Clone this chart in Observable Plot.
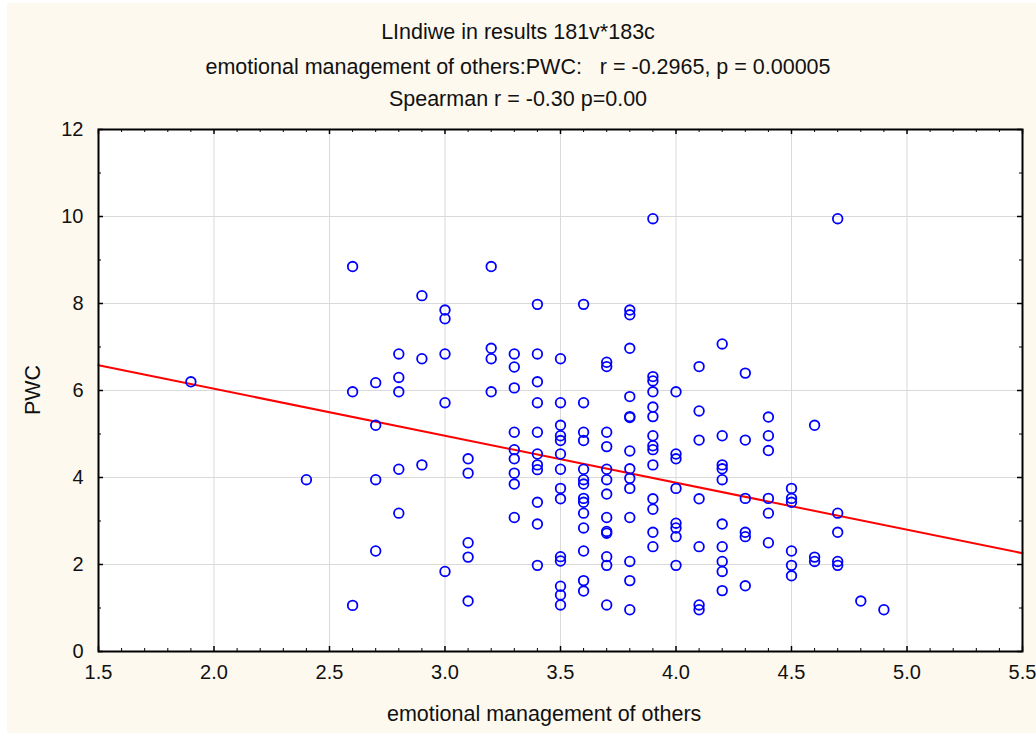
<!DOCTYPE html>
<html>
<head>
<meta charset="utf-8">
<script src="https://cdn.jsdelivr.net/npm/d3@7"></script>
<script src="https://cdn.jsdelivr.net/npm/@observablehq/plot@0.6"></script>
<style>
  body { margin: 0; background: #ffffff; }
  #wrap { position: relative; width: 1036px; height: 733px; font-family: "Liberation Sans", Arial, sans-serif; color: #111; overflow: hidden; }
  #bg { position: absolute; left: 7px; top: 3px; right: 0; bottom: 0; background: #FDF9EF; }
  #chart { position: absolute; left: 0; top: 0; }
  .t { position: absolute; left: 0; width: 1036px; text-align: center; font-size: 21.5px; line-height: 21.5px; white-space: pre; }
  #xlab { position: absolute; left: 387px; top: 704px; font-size: 21.5px; line-height: 21.5px; white-space: pre; }
  #ylab { position: absolute; left: 33.5px; top: 389.5px; font-size: 21.5px; line-height: 21.5px; transform: translate(-50%, -50%) rotate(-90deg); white-space: pre; }
</style>
</head>
<body>
<div id="wrap">
  <div id="bg"></div>
  <div id="chart"></div>
  <div class="t" style="top:22px">LIndiwe in results 181v*183c</div>
  <div class="t" style="top:57px">emotional management of others:PWC:   r = -0.2965, p = 0.00005</div>
  <div class="t" style="top:89px">Spearman r = -0.30 p=0.00</div>
  <div id="xlab">emotional management of others</div>
  <div id="ylab">PWC</div>
</div>
<script>
// x categories (emotional management of others)
const emoLevels = [1.9, 2.4, 2.6, 2.7, 2.8, 2.9, 3.0, 3.1, 3.2, 3.3, 3.4, 3.5, 3.6, 3.7, 3.8, 3.9, 4.0, 4.1, 4.2, 4.3, 4.4, 4.5, 4.6, 4.7, 4.8, 4.9];
// PWC values observed at each level
const pwcByLevel = [
  [6.2],
  [3.95],
  [8.85, 5.97, 1.06],
  [6.18, 5.2, 3.95, 2.31],
  [6.84, 6.3, 5.97, 4.19, 3.18],
  [8.18, 6.73, 4.29],
  [7.85, 7.65, 6.84, 5.72, 1.84],
  [4.43, 4.1, 2.5, 2.17, 1.16],
  [8.85, 6.97, 6.73, 5.97],
  [6.84, 6.54, 6.06, 5.04, 4.64, 4.43, 4.1, 3.85, 3.08],
  [7.98, 6.84, 6.2, 5.72, 5.04, 4.54, 4.29, 4.18, 3.43, 2.93, 1.98],
  [6.73, 5.72, 5.2, 4.96, 4.85, 4.54, 4.19, 3.75, 3.51, 2.18, 2.08, 1.5, 1.3, 1.07],
  [7.98, 5.72, 5.04, 4.85, 4.19, 3.95, 3.85, 3.52, 3.43, 3.18, 2.84, 2.31, 1.63, 1.39],
  [6.65, 6.55, 5.04, 4.71, 4.19, 3.95, 3.62, 3.08, 2.76, 2.72, 2.18, 1.98, 1.07],
  [7.85, 7.74, 6.97, 5.86, 5.4, 5.38, 4.61, 4.2, 3.98, 3.75, 3.08, 2.07, 1.63, 0.96],
  [9.95, 6.32, 6.22, 5.97, 5.62, 5.4, 4.96, 4.73, 4.64, 4.29, 3.51, 3.27, 2.74, 2.41],
  [5.97, 4.54, 4.43, 3.75, 2.95, 2.84, 2.64, 1.98],
  [6.55, 5.53, 4.86, 3.51, 2.41, 1.07, 0.96],
  [7.07, 4.96, 4.29, 4.2, 3.95, 2.93, 2.41, 2.07, 1.84, 1.4],
  [6.4, 4.86, 3.52, 2.74, 2.64, 1.51],
  [5.39, 4.96, 4.62, 3.52, 3.18, 2.5],
  [3.75, 3.52, 3.43, 2.31, 1.98, 1.74],
  [5.2, 2.17, 2.07],
  [9.95, 3.18, 2.74, 2.07, 1.98],
  [1.16],
  [0.96]
];
// fitted regression line endpoints
const fitX = [1.5, 5.5];
const fitY = [6.58, 2.26];
// tick labels / positions
const xTicks = [1.5, 2.0, 2.5, 3.0, 3.5, 4.0, 4.5, 5.0, 5.5];
const xGrid = [2.0, 2.5, 3.0, 3.5, 4.0, 4.5, 5.0];
const xMinor = d3.range(16, 55).map(d => d / 10).filter(d => Math.abs(d * 2 - Math.round(d * 2)) > 1e-9);
const yTicks = [0, 2, 4, 6, 8, 10, 12];
const yGrid = [2, 4, 6, 8, 10];
const yMinor = [1, 3, 5, 7, 9, 11];

const points = emoLevels.flatMap((x, i) => pwcByLevel[i].map(y => ({x, y})));
const fit = fitX.map((x, i) => ({x, y: fitY[i]}));

const W = 1036, H = 733, mL = 98, mR = 14, mT = 129, mB = 82;
const iW = W - mL - mR, iH = H - mT - mB;

const chart = Plot.plot({
  width: W,
  height: H,
  marginLeft: mL,
  marginRight: mR,
  marginTop: mT,
  marginBottom: mB,
  style: {background: "transparent", fontFamily: "'Liberation Sans', Arial, sans-serif", color: "#111", overflow: "visible"},
  x: {domain: [1.5, 5.5]},
  y: {domain: [0, 12]},
  marks: [
    Plot.frame({fill: "white", stroke: null}),
    Plot.gridX(xGrid, {stroke: "#d9d9d9", strokeOpacity: 1, strokeWidth: 1}),
    Plot.gridY(yGrid, {stroke: "#d9d9d9", strokeOpacity: 1, strokeWidth: 1}),
    Plot.line(fit, {x: "x", y: "y", stroke: "#ff0000", strokeWidth: 2}),
    Plot.dot(points, {x: "x", y: "y", r: 4.8, stroke: "#0000ff", strokeWidth: 1.8, fill: "none"}),
    // inward ticks: bottom
    Plot.tickX(xMinor, {x: d => d, insetTop: iH - 3, stroke: "#000", strokeWidth: 1}),
    Plot.tickX(xTicks, {x: d => d, insetTop: iH - 5, stroke: "#000", strokeWidth: 1.5}),
    // top
    Plot.tickX(xMinor, {x: d => d, insetBottom: iH - 3, stroke: "#000", strokeWidth: 1}),
    Plot.tickX(xTicks, {x: d => d, insetBottom: iH - 5, stroke: "#000", strokeWidth: 1.5}),
    // left
    Plot.tickY(yMinor, {y: d => d, insetRight: iW - 3, stroke: "#000", strokeWidth: 1}),
    Plot.tickY(yTicks, {y: d => d, insetRight: iW - 5, stroke: "#000", strokeWidth: 1.5}),
    // right
    Plot.tickY(yMinor, {y: d => d, insetLeft: iW - 3, stroke: "#000", strokeWidth: 1}),
    Plot.tickY(yTicks, {y: d => d, insetLeft: iW - 5, stroke: "#000", strokeWidth: 1.5}),
    Plot.frame({stroke: "#000", strokeWidth: 2}),
    Plot.axisX(xTicks, {anchor: "bottom", tickSize: 0, tickPadding: 13, tickFormat: d3.format(".1f"), fontSize: 20, label: null}),
    Plot.axisY(yTicks, {anchor: "left", tickSize: 0, tickPadding: 15, fontSize: 20, label: null})
  ]
});
document.getElementById("chart").appendChild(chart);
</script>
</body>
</html>
